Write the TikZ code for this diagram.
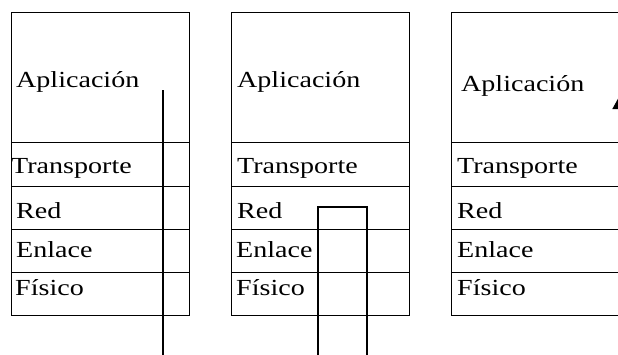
\documentclass[tikz,border=0pt]{standalone}
\usepackage{fontspec}
\setmainfont{Liberation Serif}[FakeStretch=1.22]
\usetikzlibrary{arrows.meta}
\begin{document}
\begin{tikzpicture}[x=1pt,y=-1pt,
  cell/.style={draw, line width=0.7pt, inner sep=0pt, anchor=north west, minimum width=#1},
  lbl/.style={anchor=base west, inner sep=0pt, font=\fontsize{23}{25}\selectfont},
  wire/.style={line width=1.6pt}]
\useasboundingbox (0,0) rectangle (618,354);
\foreach \i/\x/\w in {1/11/178, 2/231/178, 3/451/200}{
  \node[cell=\w pt, minimum height=130pt] (app\i) at (\x,12) {};
  \node[cell=\w pt, minimum height=44pt] (tra\i) at (\x,142) {};
  \node[cell=\w pt, minimum height=43pt] (red\i) at (\x,186) {};
  \node[cell=\w pt, minimum height=43pt] (enl\i) at (\x,229) {};
  \node[cell=\w pt, minimum height=43pt] (fis\i) at (\x,272) {};
}
% labels
\node[lbl] (tapp1) at (16,87) {Aplicación};
\node[lbl] (ttra1) at (11,173) {Transporte};
\node[lbl] (tred1) at (16,218) {Red};
\node[lbl] (tenl1) at (16,257) {Enlace};
\node[lbl] (tfis1) at (15,295) {Físico};
\node[lbl] (tapp2) at (237,87) {Aplicación};
\node[lbl] (ttra2) at (237,173) {Transporte};
\node[lbl] (tred2) at (237,218) {Red};
\node[lbl] (tenl2) at (236,257) {Enlace};
\node[lbl] (tfis2) at (236,295) {Físico};
\node[lbl] (tapp3) at (461,91) {Aplicación};
\node[lbl] (ttra3) at (457,173) {Transporte};
\node[lbl] (tred3) at (457,218) {Red};
\node[lbl] (tenl3) at (457,257) {Enlace};
\node[lbl] (tfis3) at (457,295) {Físico};
% connectors
\coordinate (a1) at (163,90);
\coordinate (b1) at (163,360);
\draw[wire] (a1) -- (b1);
\coordinate (p1) at (318,360);
\coordinate (p2) at (318,207);
\coordinate (p3) at (367,207);
\coordinate (p4) at (367,360);
\draw[wire] (p1) -- (p2) -- (p3) -- (p4);
\coordinate (q1) at (620,360);
\coordinate (q2) at (620,95);
\draw[wire, -{Triangle[length=14pt,width=15pt]}] (q1) -- (q2);
\end{tikzpicture}
\end{document}
